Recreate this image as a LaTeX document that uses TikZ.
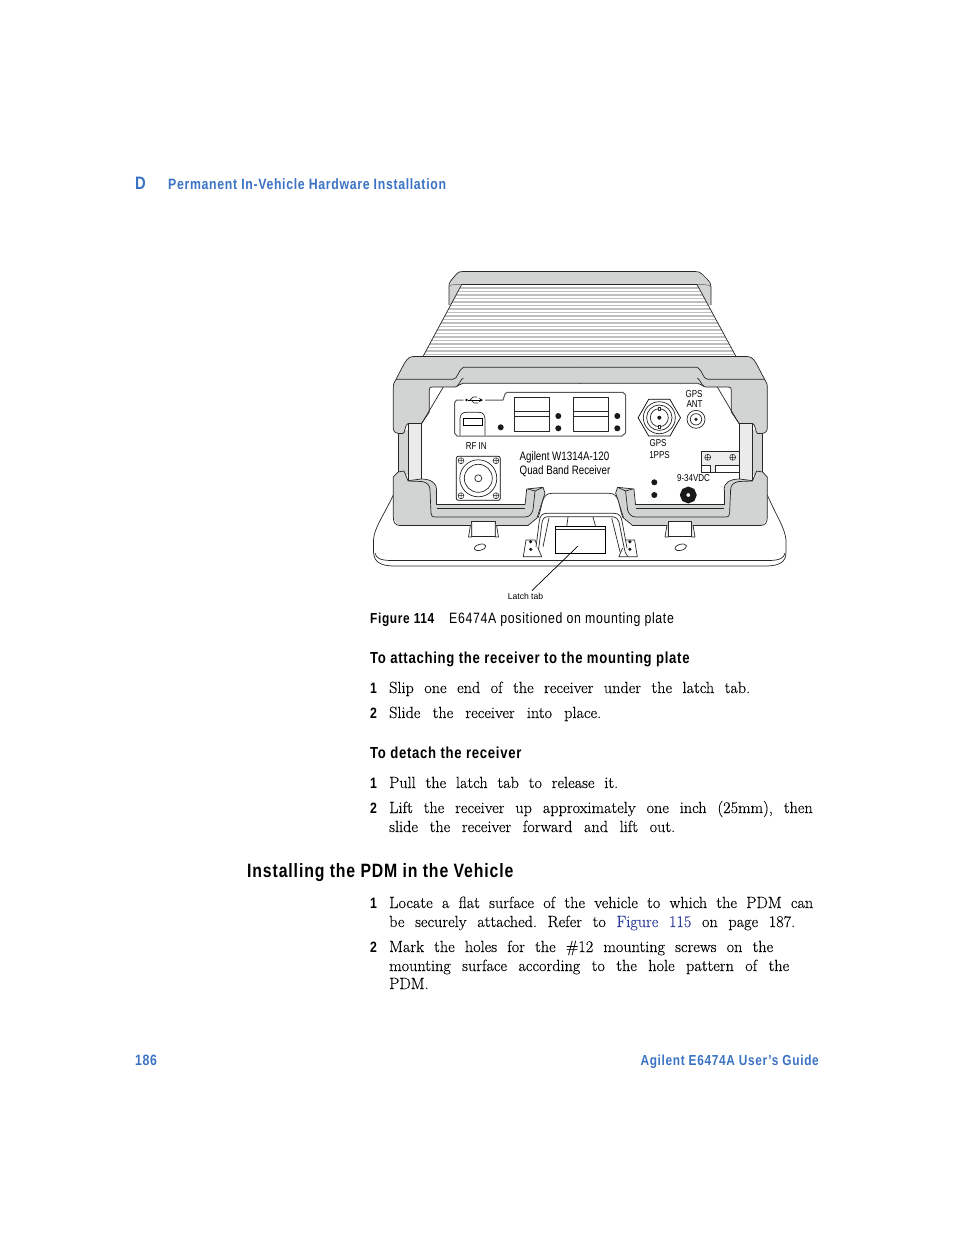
\documentclass[tikz,border=0pt]{standalone}
\usepackage{fontspec}
\setmainfont[FakeBold=0.15]{Latin Modern Roman}
\newfontfamily\headfont[FakeStretch=0.82,LetterSpace=4.5]{Liberation Sans}
\newfontfamily\panelfont[FakeStretch=0.8]{Liberation Sans}
\newfontfamily\calloutfont{Liberation Sans}
\usepackage{xcolor}
\usepackage{tikz}
\usetikzlibrary{shapes.geometric}
\definecolor{guideblue}{HTML}{3A72C4}
\definecolor{linkblue}{HTML}{2F3E9E}
\definecolor{bezelgray}{HTML}{D2D3D3}
\newcommand{\bodyfont}{\fontsize{16.2}{18}\selectfont\frenchspacing\spaceskip 0.55em plus 1fil minus 0.3em\relax}
\newcommand{\fitline}[2]{\hbox to #1pt{#2}}
\tikzstyle{bodyline} = [
    anchor=base west, inner sep=0pt,
    font=\bodyfont]
\tikzstyle{stepnum} = [
    anchor=base west, inner sep=0pt,
    font=\headfont\bfseries\fontsize{15}{18}\selectfont]
\tikzstyle{subhead} = [
    anchor=base west, inner sep=0pt,
    font=\headfont\bfseries\fontsize{16}{18}\selectfont]
\tikzstyle{runhead} = [
    anchor=base west, inner sep=0pt, text=guideblue,
    font=\headfont\bfseries\fontsize{15}{18}\selectfont]
\tikzstyle{panellabel} = [
    inner sep=0pt,
    font=\panelfont\fontsize{10}{12}\selectfont]
\tikzstyle{outline} = [line width=0.7pt, black!85, line join=round]
\tikzstyle{blackdot} = [circle, fill=black!90, inner sep=0pt, minimum size=6pt]

\begin{document}
\begin{tikzpicture}[x=1pt,y=-1pt]
    \useasboundingbox (0,0) rectangle (954,1235);

    % page header
    \node (head_letter) [runhead, font=\headfont\bfseries\fontsize{18}{18}\selectfont] at (135,189) {D};
    \node (head_title) [runhead] at (168,189) {Permanent In-Vehicle Hardware Installation};

    % back of the receiver
    \draw [outline, fill=bezelgray] (449,305) -- (449,286) .. controls (449,282) and (451,281) .. (453,278)
        -- (457,273.5) .. controls (458.5,272) and (460,271.5) .. (463,271.5) -- (695,271.5)
        .. controls (698,271.5) and (700,272) .. (702,274) -- (707,279)
        .. controls (710,282) and (711,284) .. (711,287) -- (711,305);
    \draw [outline, gray] (449,287) .. controls (450,284) and (456,284.5) .. (461,284.5);
    \draw [outline, gray] (697,284.5) .. controls (703,284.5) and (709,284) .. (711,287);
    \begin{scope}
        \clip (461.7,284.5) -- (423,356.5) -- (736,356.5) -- (697,284.5) -- cycle;
        \fill [white] (420,284) rectangle (740,357);
        \foreach \finy in {288,291.5,...,356} {
            \draw [line width=1.2pt, gray!50] (420,\finy) -- (740,\finy);
        }
    \end{scope}
    \draw [outline] (423,356.5) -- (461.7,284.5) -- (697,284.5) -- (736,356.5);

    % mounting plate
    \draw [outline, fill=white] (393.3,495) .. controls (384,515) and (374,528) .. (373.5,540)
        -- (373.5,552) .. controls (374,562) and (380,566) .. (395,566) -- (765,566)
        .. controls (780,566) and (786,562) .. (786,552) -- (786,540)
        .. controls (785,528) and (776,515) .. (767.3,495);
    \draw [outline] (375,553) .. controls (376,558) and (380,560.5) .. (392,560.5) -- (768,560.5)
        .. controls (780,560.5) and (784,558) .. (785,553);

    % one half of the front housing, then its mirror image
    \foreach \mirrorx/\mirrors in {0/1,1160.6/-1} {
        \begin{scope}[shift={(\mirrorx,0)},xscale=\mirrors]
            % rails
            \fill [bezelgray] (398.3,430) rectangle (408.3,475);
            \fill [bezelgray!45] (408.3,423) rectangle (421.5,481);
            \draw [outline] (398.3,430) -- (398.3,473) (408.3,424) -- (408.3,480) (421.5,423) -- (421.5,480);
            % upper bezel
            \draw [outline, fill=bezelgray] (581.3,356.5) -- (413,356.5)
                .. controls (408,356.5) and (405,362) .. (403,366) -- (396,379.3)
                .. controls (394,382) and (393.3,384) .. (393.3,388) -- (393.3,428)
                .. controls (393.3,432) and (396,433.5) .. (400,433.5) -- (403,433.5)
                .. controls (405,433.5) and (405,424) .. (408,423.5) -- (421.5,423.5)
                -- (429.3,412) -- (429.3,390) .. controls (429.3,388) and (430,387) .. (432,387)
                -- (455,387) .. controls (459,386) and (460,383.5) .. (463,383.3) -- (581.3,383.3);
            \draw [outline] (396,379.3) -- (453,379.3) .. controls (458,379) and (458,370) .. (463.3,367.3) -- (581.3,367.3);
            \draw [outline] (457,386) .. controls (460,384) and (460,380) .. (463.3,378);
            \draw [outline] (443.3,387) -- (421.7,423.5);
            % lower block
            \fill [bezelgray] (393.3,477) -- (398,472) -- (404,471) -- (408,480.7) -- (421,479)
                .. controls (431,479) and (436.7,483) .. (436.7,490) -- (436.7,505) -- (525,505)
                -- (526.7,489) -- (543,487.3) -- (545,493) -- (537,518) -- (528,525.5)
                -- (398,525.5) -- (393.3,518) -- cycle;
            \draw [outline] (436.7,490) -- (436.7,504.3) -- (525,504.3) (436.7,508.5) -- (525,508.5);
            \draw [outline] (393.3,477) -- (398,472) -- (404,471) -- (408,480.7) -- (421,479)
                .. controls (431,479) and (436.7,483) .. (436.7,490);
            \draw [outline] (393.3,477) -- (393.3,517) .. controls (393.3,522) and (395,525.5) .. (400,525.5) -- (528,525.5) -- (537,518) -- (545,493) -- (543,487.3) -- (526.7,489) -- (525,505);
            \draw [outline] (408,481) -- (422,481.5) .. controls (427,482.5) and (430,485) .. (430,490) -- (431,513)
                .. controls (431,516) and (432,517) .. (436,517) -- (525,517) .. controls (530,517) and (532,513) .. (533,510) -- (535,491) -- (528,489);
            \draw [outline] (535,491) -- (543,487.3);
            % screw bracket and latch side
            \draw [outline, fill=white] (526,540) -- (535,540) -- (538,548) -- (541.7,556.7) -- (523.3,556.7) -- cycle;
            \node (bracket_dot_a\mirrors) [blackdot, minimum size=3.5pt] at (530.7,541.7) {};
            \node (bracket_dot_b\mirrors) [blackdot, minimum size=3.5pt] at (530.7,549.3) {};
        \end{scope}
    }

    % feet of the housing
    \foreach \footx/\holex in {483.5/480,680/680.7} {
        \begin{scope}[shift={(\footx,0)}]
            \draw [outline, fill=white] (-11.8,521) -- (11.8,521) -- (11.8,536) -- (-11.8,536) -- cycle;
            \draw [outline, fill=white] (-13,525) -- (-15,537) -- (-11.8,537) -- (-11.8,523);
            \draw [outline, fill=white] (13,525) -- (15,537) -- (11.8,537) -- (11.8,523);
        \end{scope}
        \draw [outline, fill=white, rotate around={15:(\holex,547.3)}] (\holex,547.3) ellipse (6 and 3);
    }

    % latch
    \draw [outline, fill=white] (538,518) .. controls (543,505) and (541,493.3) .. (552,493.3) -- (609,493.3)
        .. controls (620,493.3) and (618,505) .. (623,518);
    \draw [outline, fill=white] (536,547) -- (539.3,521) .. controls (540,516) and (542,513.3) .. (547,513.3) -- (614,513.3)
        .. controls (619,513.3) and (621,516) .. (622,521) -- (627,548);
    \draw [outline] (538.5,550) -- (541.7,525) .. controls (542,519) and (544,516.7) .. (548,516.7) -- (613,516.7)
        .. controls (616,516.7) and (618,519) .. (619,522) -- (624,547) .. controls (625,552) and (626,555) .. (628,556.7);
    \draw [outline] (549,518) -- (543,546.7) (611.7,518) -- (620,551.7);
    \draw [outline] (568,517) -- (566.7,526.7) (593,517) -- (595.7,526.7);
    \node (latch_plate) [draw=black, line width=0.7pt, fill=white, inner sep=0pt, minimum width=50.7pt, minimum height=26.6pt] at (580.3,540) {};
    \draw [outline] (555,529.3) -- (605.7,529.3);

    % usb panel
    \draw [outline, gray!70!black, line width=1pt] (463.3,400) -- (456.5,400) -- (454.5,403) -- (454.5,433) -- (457,436)
        -- (622,436) -- (625.5,433) -- (625.5,395) -- (623,392.3) -- (507,392.3) -- (505,394) -- (503,400) -- (485,400);
    \node (usb_tail) [blackdot, minimum size=2.6pt] at (466.5,400) {};
    \coordinate (usb_tip) at (483,400);
    \draw [line width=0.8pt, black, ->, >=stealth] (usb_tail) -- (usb_tip);
    \draw [outline, line width=0.7pt] (470,400) -- (473,397) -- (477,397) (471,400) -- (474,403) -- (478,403);
    \draw [outline] (460,435.5) -- (460,419) .. controls (460,415) and (462,412.3) .. (466,412.3) -- (479,412.3)
        .. controls (483,412.3) and (485,415) .. (485,419) -- (485,435.5);
    \node (usb_socket) [draw=black, line width=0.7pt, inner sep=0pt, minimum width=19pt, minimum height=7.4pt] at (472.8,422) {};
    \foreach \slotx in {531.8,590.8} {
        \draw [outline, fill=white] (\slotx-17.5,397.7) rectangle (\slotx+17.5,431);
        \draw [outline] (\slotx-17.5,411) -- (\slotx+17.5,411) (\slotx-17.5,416.7) -- (\slotx+17.5,416.7);
    }
    \node (usb_dot) [blackdot] at (500.7,427.3) {};
    \node (slot_dot_a) [blackdot] at (558.3,416) {};
    \node (slot_dot_b) [blackdot] at (558.3,428.3) {};
    \node (slot_dot_c) [blackdot] at (617.3,416) {};
    \node (slot_dot_d) [blackdot] at (617.3,428.3) {};

    % rf connector
    \node (rf_in) [panellabel] at (476.3,445.7) {RF IN};
    \node (rf_block) [draw=black, line width=0.7pt, rounded corners=2pt, inner sep=0pt, minimum width=44pt, minimum height=44pt] at (478.3,478.3) {};
    \foreach \rfr in {18.5,14,3.5} {
        \draw [outline] (478.3,478.3) circle (\rfr);
    }
    \foreach \screwx/\screwy in {461/460.7,496/460.7,461/495.7,496/495.7} {
        \draw [outline, line width=0.5pt] (\screwx,\screwy) circle (3) (\screwx-3,\screwy) -- (\screwx+3,\screwy) (\screwx,\screwy-3) -- (\screwx,\screwy+3);
    }
    \node (model_a) [panellabel, anchor=base west, font=\panelfont\fontsize{12.2}{12}\selectfont] at (519.5,460) {Agilent W1314A-120};
    \node (model_b) [panellabel, anchor=base west, font=\panelfont\fontsize{12.2}{12}\selectfont] at (519.5,474) {Quad Band Receiver};

    % gps connectors
    \node (gps_hex) [draw=black, line width=0.7pt, regular polygon, regular polygon sides=6, inner sep=0pt, minimum size=42.4pt, fill=white] at (659.3,417.7) {};
    \foreach \gpsr in {16,12.7,9} {
        \draw [outline] (659.3,417.7) circle (\gpsr);
    }
    \draw [outline, fill=white] (658,407) rectangle (660.6,410) (658,425.4) rectangle (660.6,428.4);
    \node (gps_pin) [blackdot, minimum size=4pt] at (659.3,417.7) {};
    \node (gps_ant_a) [panellabel] at (694,394) {GPS};
    \node (gps_ant_b) [panellabel] at (694.5,404.5) {ANT};
    \foreach \antr in {9,5.7} {
        \draw [outline] (696,419.3) circle (\antr);
    }
    \node (ant_pin) [blackdot, minimum size=3.4pt] at (696,419.3) {};
    \node (gps_a) [panellabel] at (658,443) {GPS};
    \node (gps_b) [panellabel] at (659.5,455) {1PPS};

    % terminal block and power
    \draw [outline, fill=bezelgray!40] (701.7,451) rectangle (739,472.3);
    \draw [outline, fill=white] (701.7,465) rectangle (710,472.3) (715,465) rectangle (739,472.3);
    \foreach \screwx/\screwy in {707.7/457.3,732.7/457.3} {
        \draw [outline, line width=0.5pt] (\screwx,\screwy) circle (3) (\screwx-3,\screwy) -- (\screwx+3,\screwy) (\screwx,\screwy-3) -- (\screwx,\screwy+3);
    }
    \node (power_label) [panellabel] at (693.5,478) {9-34VDC};
    \node (led_a) [blackdot] at (654.3,482.3) {};
    \node (led_b) [blackdot] at (654.3,495) {};
    \node (power_jack) [circle, draw=black!90, line width=6pt, fill=white, inner sep=0pt, minimum size=10.5pt] at (688.3,495) {};

    % latch callout
    \coordinate (latch_point) at (578,546);
    \node (latch_label) [inner sep=2pt, font=\calloutfont\fontsize{8.6}{10}\selectfont] at (525.5,596) {Latch tab};
    \draw [line width=0.7pt] (latch_point) -- (latch_label.40);

    % caption
    \node (fig_number) [subhead, font=\headfont\bfseries\fontsize{14.5}{18}\selectfont] at (370,623) {Figure 114};
    \node (fig_caption) [panellabel, anchor=base west, font=\headfont\fontsize{15}{18}\selectfont] at (449,623) {E6474A positioned on mounting plate};

    % attaching
    \node (attach_head) [subhead] at (370,663) {To attaching the receiver to the mounting plate};
    \node (attach_num_a) [stepnum] at (370,693) {1};
    \node (attach_step_a) [bodyline] at (389,693) {\fitline{361}{Slip one end of the receiver under the latch tab.}};
    \node (attach_num_b) [stepnum] at (370,718) {2};
    \node (attach_step_b) [bodyline] at (389,718) {\fitline{212}{Slide the receiver into place.}};

    % detaching
    \node (detach_head) [subhead] at (370,758) {To detach the receiver};
    \node (detach_num_a) [stepnum] at (370,788) {1};
    \node (detach_step_a) [bodyline] at (389,788) {\fitline{229}{Pull the latch tab to release it.}};
    \node (detach_num_b) [stepnum] at (370,813) {2};
    \node (detach_step_b) [bodyline] at (389,813) {\fitline{423.5}{Lift the receiver up approximately one inch (25mm), then}};
    \node (detach_step_c) [bodyline] at (389,832) {\fitline{286}{slide the receiver forward and lift out.}};

    % pdm section
    \node (pdm_head) [subhead, font=\headfont\bfseries\fontsize{19.3}{24}\selectfont] at (247,877) {Installing the PDM in the Vehicle};
    \node (pdm_num_a) [stepnum] at (370,908) {1};
    \node (pdm_step_a) [bodyline] at (389,908) {\fitline{424}{Locate a flat surface of the vehicle to which the PDM can}};
    \node (pdm_step_b) [bodyline] at (389,927) {\fitline{406}{be securely attached. Refer to \textcolor{linkblue}{Figure 115} on page 187.}};
    \node (pdm_num_b) [stepnum] at (370,952) {2};
    \node (pdm_step_c) [bodyline] at (389,952) {\fitline{384}{Mark the holes for the \#12 mounting screws on the}};
    \node (pdm_step_d) [bodyline] at (389,971) {\fitline{400}{mounting surface according to the hole pattern of the}};
    \node (pdm_step_e) [bodyline] at (389,989) {PDM.};

    % footer
    \node (page_number) [runhead] at (135,1065) {186};
    \node (guide_title) [runhead, anchor=base east, font=\headfont\bfseries\fontsize{14.5}{18}\selectfont] at (819,1065) {Agilent E6474A User’s Guide};
\end{tikzpicture}
\end{document}
